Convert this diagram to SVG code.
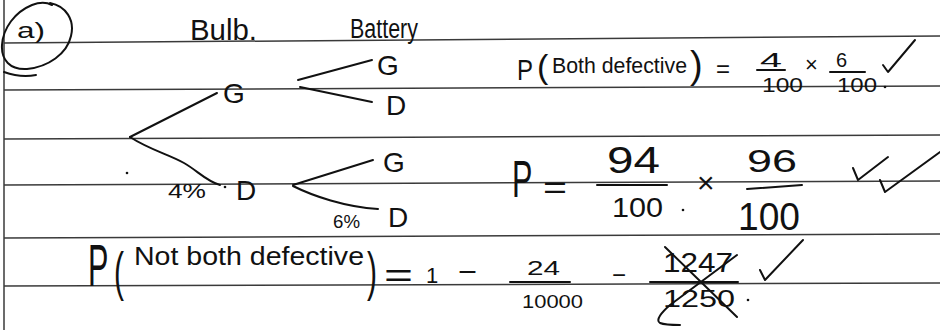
<svg xmlns="http://www.w3.org/2000/svg" width="940" height="330" viewBox="0 0 940 330">
<style>
.rule{stroke:#3a3a3a;stroke-width:1.5;fill:none}
.ink{stroke:#111;stroke-width:2;fill:none;stroke-linecap:round;stroke-linejoin:round}
.t{font-family:"Liberation Sans",Arial,sans-serif;fill:#111}
.dot{fill:#111}
</style>
<rect width="940" height="330" fill="#fff"/>
<g id="ruled-lines">
<line class="rule" x1="4" y1="0" x2="4" y2="330"/>
<line class="rule" x1="4" y1="43" x2="940" y2="36"/>
<line class="rule" x1="4" y1="90" x2="940" y2="86"/>
<line class="rule" x1="4" y1="139" x2="940" y2="135"/>
<line class="rule" x1="4" y1="185" x2="940" y2="181"/>
<line class="rule" x1="4" y1="238" x2="940" y2="234"/>
<line class="rule" x1="4" y1="286" x2="940" y2="283"/>
</g>
<g id="part-label">
<path class="ink" d="M50,3 C66,6 75,20 71,36 C67,54 48,67 27,69 C10,70 1,60 2,45 C3,28 15,12 32,5 C40,2 46,2 52,5"/>
<path class="ink" d="M4,72 C15,76 26,77 36,75"/>
<text class="t" x="17" y="38" font-size="22" textLength="28" lengthAdjust="spacingAndGlyphs">a)</text>
</g>
<g id="headers">
<text class="t" x="190" y="40" font-size="30" textLength="67" lengthAdjust="spacingAndGlyphs">Bulb.</text>
<text class="t" x="350" y="38" font-size="27" textLength="68" lengthAdjust="spacingAndGlyphs">Battery</text>
</g>
<g id="connectors">
<path class="ink" d="M130,137 L217,93"/>
<path class="ink" d="M130,137 C150,150 168,154 184,163 C198,171 206,181 220,185"/>
<path class="ink" d="M298,80 L372,60"/>
<path class="ink" d="M300,87 L372,102"/>
<path class="ink" d="M293,185 L373,160"/>
<path class="ink" d="M293,186 C313,196 345,207 378,209"/>
</g>
<g id="node-bulb-G"><text class="t" x="223" y="103" font-size="28">G</text></g>
<g id="node-bulb-D"><text class="t" x="236" y="200" font-size="28">D</text></g>
<g id="node-G-battery-G"><text class="t" x="377" y="75" font-size="28">G</text></g>
<g id="node-G-battery-D"><text class="t" x="386" y="115" font-size="28">D</text></g>
<g id="node-D-battery-G"><text class="t" x="383" y="172" font-size="28">G</text></g>
<g id="node-D-battery-D"><text class="t" x="388" y="227" font-size="28">D</text></g>
<g id="branch-labels">
<text class="t" x="168" y="198" font-size="20" textLength="38" lengthAdjust="spacingAndGlyphs">4%</text>
<text class="t" x="333" y="228" font-size="18" textLength="27" lengthAdjust="spacingAndGlyphs">6%</text>
<circle class="dot" cx="127" cy="173" r="1.3"/>
<circle class="dot" cx="225" cy="187" r="1.3"/>
</g>
<g id="eq-both-defective">
<text class="t" x="517" y="80" font-size="30" textLength="16" lengthAdjust="spacingAndGlyphs">P</text>
<text class="t" x="537" y="78" font-size="34">(</text>
<text class="t" x="552" y="73" font-size="22" textLength="135" lengthAdjust="spacingAndGlyphs">Both defective</text>
<text class="t" x="690" y="78" font-size="38">)</text>
<text class="t" x="716" y="77" font-size="24">=</text>
<text class="t" x="771" y="67" font-size="20" text-anchor="middle" textLength="22" lengthAdjust="spacingAndGlyphs">4</text>
<line class="ink" x1="757" y1="70" x2="785" y2="70"/>
<text class="t" x="762" y="92" font-size="20" textLength="41" lengthAdjust="spacingAndGlyphs">100</text>
<text class="t" x="805" y="72" font-size="22">×</text>
<text class="t" x="836" y="67" font-size="20">6</text>
<line class="ink" x1="830" y1="72" x2="865" y2="72"/>
<text class="t" x="837" y="92" font-size="20" textLength="40" lengthAdjust="spacingAndGlyphs">100</text>
<circle class="dot" cx="885" cy="87" r="1.3"/>
<path class="ink" d="M883,65 L888,72 L915,40"/>
</g>
<g id="eq-product">
<text class="t" font-size="34" transform="translate(512,197) scale(0.9,1.5)">P</text>
<text class="t" x="543" y="198" font-size="32" textLength="24" lengthAdjust="spacingAndGlyphs">=</text>
<text class="t" x="607" y="173" font-size="36" textLength="53" lengthAdjust="spacingAndGlyphs">94</text>
<line class="ink" x1="597" y1="185" x2="667" y2="185" stroke-width="2.6"/>
<text class="t" x="612" y="217" font-size="28" textLength="51" lengthAdjust="spacingAndGlyphs">100</text>
<circle class="dot" cx="683" cy="210" r="1.3"/>
<text class="t" x="697" y="193" font-size="30">×</text>
<text class="t" x="747" y="172" font-size="32" textLength="50" lengthAdjust="spacingAndGlyphs">96</text>
<line class="ink" x1="747" y1="189" x2="802" y2="185" stroke-width="2.4"/>
<text class="t" x="738" y="230" font-size="38" textLength="62" lengthAdjust="spacingAndGlyphs">100</text>
<path class="ink" d="M853,168 L858,180 L888,157"/>
<path class="ink" d="M880,180 L885,192 L940,152"/>
</g>
<g id="eq-not-both">
<text class="t" font-size="34" transform="translate(88,286) scale(0.9,1.75)">P</text>
<text class="t" font-size="30" transform="translate(114,290) scale(1,1.8)">(</text>
<text class="t" x="134" y="265" font-size="26" textLength="230" lengthAdjust="spacingAndGlyphs">Not both defective</text>
<text class="t" font-size="30" transform="translate(367,290) scale(1,1.8)">)</text>
<text class="t" x="384" y="287" font-size="34" textLength="29" lengthAdjust="spacingAndGlyphs">=</text>
<text class="t" x="426" y="283" font-size="22">1</text>
<text class="t" x="458" y="281" font-size="28" textLength="19" lengthAdjust="spacingAndGlyphs">−</text>
<text class="t" x="527" y="275" font-size="21" textLength="33" lengthAdjust="spacingAndGlyphs">24</text>
<line class="ink" x1="510" y1="282" x2="570" y2="282"/>
<text class="t" x="522" y="308" font-size="18" textLength="61" lengthAdjust="spacingAndGlyphs">10000</text>
<text class="t" x="612" y="283" font-size="24" textLength="14" lengthAdjust="spacingAndGlyphs">−</text>
<text class="t" x="663" y="272" font-size="28" textLength="70" lengthAdjust="spacingAndGlyphs">1247</text>
<line class="ink" x1="650" y1="282" x2="738" y2="282"/>
<text class="t" x="663" y="307" font-size="24" textLength="72" lengthAdjust="spacingAndGlyphs">1250</text>
<circle class="dot" cx="748" cy="300" r="1.3"/>
<path class="ink" d="M665,247 L737,317"/>
<path class="ink" d="M737,255 L670,305 C662,312 655,320 660,323 C665,325 672,325 680,325"/>
<path class="ink" d="M760,270 L765,280 L803,240"/>
</g>
</svg>
